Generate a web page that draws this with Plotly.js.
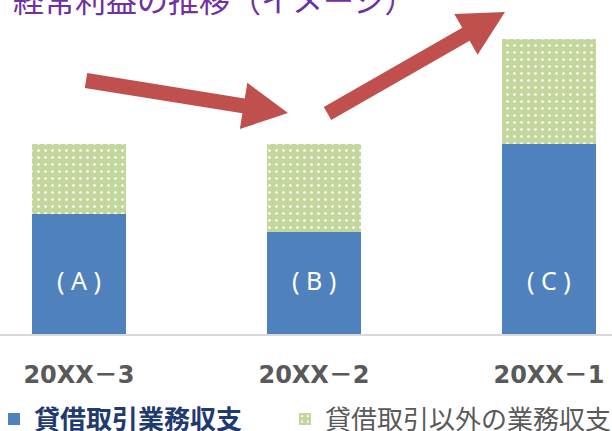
<!DOCTYPE html>
<html>
<head>
<meta charset="utf-8">
<script src="https://cdn.plot.ly/plotly-3.0.1.min.js"></script>
<style>html,body{margin:0;padding:0;background:#fff;}#chart{width:612px;height:431px;}</style>
</head>
<body>
<div id="chart"></div>
<script>
// ---- data ----
const categories = ["20XX\uFF0D3", "20XX\uFF0D2", "20XX\uFF0D1"];
const lendingIncome = [60, 51, 95];          // 貸借取引業務収支
const otherIncome = [35, 44, 52.5];          // 貸借取引以外の業務収支
const barLabels = ["( A )", "( B )", "( C )"];
const seriesNames = ["貸借取引業務収支", "貸借取引以外の業務収支"];
const chartTitle = "経常利益の推移（イメージ）";

// ---- layout helpers ----
const W = 612, H = 431, plotH = 334;
function px(x){ return x / W; }
function py(y){ return (plotH - y) / plotH; }
function arrowPath(tail, tip, shaftW, headW, headL){
  const dx = tip[0]-tail[0], dy = tip[1]-tail[1];
  const L = Math.hypot(dx, dy);
  const ux = dx/L, uy = dy/L, nx = -uy, ny = ux;
  const bx = tip[0]-ux*headL, by = tip[1]-uy*headL;
  const pts = [
    [tail[0]+nx*shaftW/2, tail[1]+ny*shaftW/2],
    [bx+nx*shaftW/2, by+ny*shaftW/2],
    [bx+nx*headW/2, by+ny*headW/2],
    [tip[0], tip[1]],
    [bx-nx*headW/2, by-ny*headW/2],
    [bx-nx*shaftW/2, by-ny*shaftW/2],
    [tail[0]-nx*shaftW/2, tail[1]-ny*shaftW/2]
  ];
  return "M" + pts.map(p => px(p[0]).toFixed(5) + "," + py(p[1]).toFixed(5)).join(" L") + " Z";
}

const traces = [
  {
    type: "bar", x: categories, y: lendingIncome,
    name: '<span style="color:#1F3A6E"><b>' + seriesNames[0] + '</b></span>',
    marker: {color: "#4F81BD", line: {width: 0}},
    width: 0.4, hoverinfo: "skip", legend: "legend"
  },
  {
    type: "bar", x: categories, y: otherIncome,
    name: seriesNames[1],
    marker: {color: "#C3D69B", line: {width: 0},
      pattern: {shape: ".", fgcolor: "#FFFFFF", bgcolor: "#C3D69B", size: 7, solidity: 0.12, fillmode: "replace"}},
    width: 0.4, hoverinfo: "skip", legend: "legend2"
  }
];

const annotations = [
  {
    text: chartTitle, xref: "paper", yref: "paper",
    x: px(11), y: py(23), xanchor: "left", yanchor: "bottom", showarrow: false,
    font: {family: "Noto Sans CJK JP", size: 31, color: "#7030A0"}
  }
].concat(categories.map((c, i) => ({
  text: barLabels[i], x: c, y: 27, xref: "x", yref: "y",
  xanchor: "center", yanchor: "middle", showarrow: false,
  font: {family: "Noto Sans, DejaVu Sans", size: 25, color: "#FFFFFF"}
})));

const shapes = [
  {type: "path", xref: "paper", yref: "paper", line: {width: 0}, fillcolor: "#C0504D",
   path: arrowPath([86, 80.5], [288, 113], 15, 47, 45)},
  {type: "path", xref: "paper", yref: "paper", line: {width: 0}, fillcolor: "#C0504D",
   path: arrowPath([327.5, 113.5], [505, 12], 15, 47, 45)}
];

const legendFont = {family: "Noto Sans CJK JP", size: 26, color: "#595959"};

const layout = {
  width: W, height: H,
  margin: {l: 0, r: 0, t: 0, b: H - plotH, autoexpand: false},
  paper_bgcolor: "#FFFFFF", plot_bgcolor: "#FFFFFF",
  font: {family: "Noto Sans CJK JP", color: "#595959"},
  barmode: "stack",
  showlegend: true,
  legend: {
    orientation: "h", x: px(-6), xanchor: "left", y: py(419), yanchor: "middle",
    font: legendFont, bgcolor: "rgba(0,0,0,0)", itemclick: false
  },
  legend2: {
    orientation: "h", x: px(285), xanchor: "left", y: py(419), yanchor: "middle",
    font: legendFont, bgcolor: "rgba(0,0,0,0)", itemclick: false
  },
  xaxis: {
    type: "category", range: [-0.336, 2.268],
    showline: true, linecolor: "#D9D9D9", linewidth: 2,
    ticks: "", showgrid: false, zeroline: false,
    tickfont: {family: "DejaVu Sans, Noto Sans CJK JP", size: 24, color: "#595959", weight: "bold"},
    ticklabelstandoff: 18
  },
  yaxis: {
    range: [0, plotH / 2], showgrid: false, zeroline: false,
    showticklabels: false, ticks: "", showline: false
  },
  annotations: annotations,
  shapes: shapes
};

Plotly.newPlot("chart", traces, layout, {staticPlot: true, displayModeBar: false});
</script>
</body>
</html>
